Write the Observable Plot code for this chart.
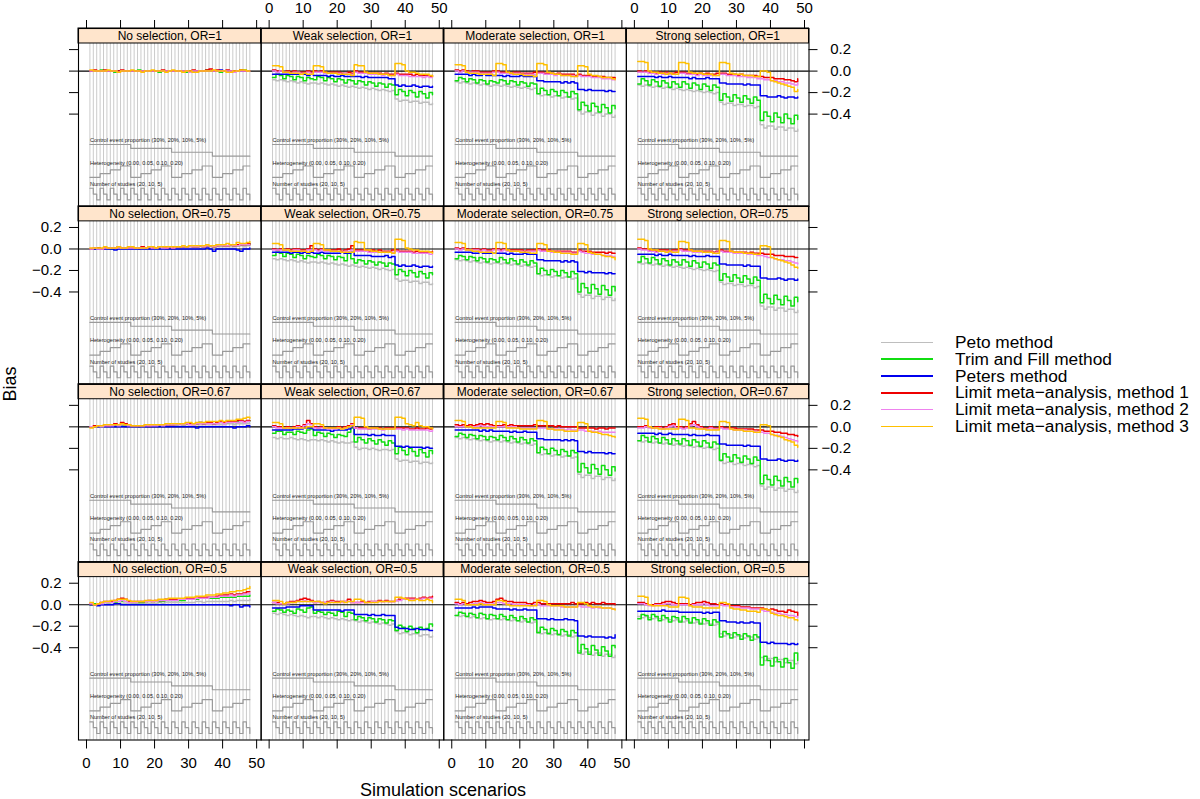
<!DOCTYPE html>
<html><head><meta charset="utf-8">
<script src="https://cdn.jsdelivr.net/npm/d3@7"></script>
<script src="https://cdn.jsdelivr.net/npm/@observablehq/plot@0.6"></script>
<style>
body{margin:0;background:#fff;font-family:"Liberation Sans",Arial,Helvetica,sans-serif;}
#wrap{position:relative;width:1200px;height:799px;overflow:hidden;background:#fff;}
#wrap svg{position:absolute;left:0;top:0;}
.lab{position:absolute;color:#000;white-space:nowrap;}
#legend{position:absolute;left:881px;top:334px;font-size:17.3px;line-height:16.8px;}
#legend .it{height:16.8px;white-space:nowrap;display:flex;align-items:center;}
#legend .sw{display:inline-block;width:52px;height:1.7px;margin-right:22px;}
</style></head>
<body><div id="wrap"></div>
<script>
const methods = ["Peto method","Trim and Fill method","Peters method","Limit meta\u2212analysis, method 1","Limit meta\u2212analysis, method 2","Limit meta\u2212analysis, method 3"];
const colors = ["#bebebe","#11dd11","#0000ee","#ee0000","#ee82ee","#ffc000"];
const selections = ["No selection","Weak selection","Moderate selection","Strong selection"];
const oddsRatios = ["OR=1","OR=0.75","OR=0.67","OR=0.5"];
const cepLevels = ["30%","20%","10%","5%"];
const hetLevels = ["0.00","0.05","0.10","0.20"];
const nLevels = [20,10,5];
const xTicks = [0,10,20,30,40,50];
const yTicks = [-0.4,-0.2,0,0.2];

// Bias x 100, one row per method (order of `methods`), 48 scenarios each
const noSel_OR1 = [
[0,0,0,0,0,0,0,0,0,0,0,0, 0,0,0,0,0,0,0,0,0,0,0,0, 0,0,0,0,0,0,0,0,0,0,0,0, 0,0,0,0,0,-1,0,0,0,0,0,0],
[0,0,0,1,0,0,0,-1,0,0,0,0, 0,0,1,0,0,0,0,0,-1,0,0,0, 0,0,0,0,-1,0,0,0,0,0,1,0, 0,0,-1,0,0,0,0,0,1,1,0,0],
[0,0,0,0,0,0,0,0,0,0,0,0, 0,0,0,0,0,0,0,0,0,0,0,0, 0,0,0,0,0,0,0,0,0,0,0,0, 0,0,1,0,0,0,0,0,0,0,0,0],
[0,1,0,0,1,0,0,0,0,1,0,0, 0,0,0,0,0,0,0,0,0,1,0,0, 0,0,0,0,0,0,1,0,0,0,1,2, 0,1,0,0,1,0,0,0,1,0,0,0],
[0,0,0,0,0,0,0,0,-1,0,0,0, 0,0,0,0,0,0,0,0,0,0,0,0, 0,0,0,0,0,-1,0,0,0,0,0,0, 0,0,0,0,0,0,-1,0,0,0,0,0],
[1,0,0,0,0,1,0,0,-1,0,0,0, 1,0,0,-1,0,0,1,0,0,0,-1,0, 1,0,0,-1,0,0,-1,-1,0,0,0,0, 1,0,0,0,-1,-1,0,0,1,1,0,0]];
const weak_OR1 = [
[-8,-9,-8,-9,-10,-9,-10,-11,-10,-11,-12,-11, -11,-12,-11,-12,-13,-12,-13,-14,-13,-14,-15,-14, -15,-16,-15,-16,-17,-16,-17,-18,-17,-18,-19,-18, -26,-28,-27,-27,-29,-28,-28,-30,-29,-29,-31,-30],
[-6,-3,-4,-7,-4,-5,-8,-5,-6,-9,-6,-7, -8,-5,-6,-9,-6,-7,-10,-7,-8,-11,-8,-9, -12,-9,-10,-13,-10,-11,-14,-11,-12,-15,-12,-13, -22,-17,-19,-23,-18,-20,-24,-19,-21,-25,-20,-22],
[-3,-3,-3,-3,-3,-3,-3,-3,-3,-3,-4,-3, -4,-4,-4,-4,-5,-4,-5,-5,-4,-5,-5,-5, -5,-5,-6,-5,-6,-6,-6,-6,-6,-6,-7,-7, -13,-14,-13,-14,-14,-13,-14,-15,-14,-14,-15,-14],
[1,0,0,-1,0,-1,0,-1,-1,-1,0,-1, 0,-1,0,-1,-2,-1,-1,-1,-2,-2,-1,-2, 0,-1,-1,-1,-2,-2,-2,-2,-3,-2,-3,-3, -2,-3,-3,-3,-3,-4,-3,-4,-4,-4,-5,-4],
[0,-1,0,-1,-1,-2,-1,-1,-2,-2,-1,-2, -1,-1,-1,-2,-2,-2,-2,-2,-3,-2,-3,-3, -1,-2,-2,-2,-3,-3,-3,-3,-4,-3,-4,-4, -3,-4,-4,-4,-5,-5,-5,-5,-6,-5,-6,-6],
[5,5,4,-1,-1,-2,-2,-2,-3,-2,-3,-3, 5,5,4,-1,-2,-2,-2,-3,-3,-3,-3,-4, 6,5,5,-1,-2,-2,-2,-3,-3,-3,-4,-4, 7,7,6,0,-1,-1,-2,-3,-3,-3,-4,-5]];
const mod_OR1 = [
[-10,-11,-10,-11,-12,-11,-12,-13,-12,-13,-14,-13, -13,-14,-13,-14,-15,-14,-15,-16,-15,-16,-17,-16, -21,-23,-22,-22,-24,-23,-23,-25,-24,-24,-26,-25, -37,-40,-38,-38,-41,-39,-39,-42,-40,-40,-43,-41],
[-9,-6,-7,-10,-7,-8,-11,-8,-9,-12,-9,-10, -11,-8,-9,-12,-9,-10,-13,-10,-11,-14,-11,-12, -21,-16,-18,-22,-17,-19,-23,-18,-20,-24,-19,-21, -36,-29,-32,-37,-30,-33,-38,-31,-34,-39,-32,-35],
[-3,-3,-3,-3,-4,-3,-4,-4,-3,-4,-4,-4, -4,-4,-5,-4,-5,-5,-5,-4,-5,-5,-5,-5, -9,-9,-10,-10,-10,-10,-10,-11,-10,-11,-10,-11, -17,-17,-18,-17,-18,-18,-18,-18,-19,-18,-19,-19],
[1,0,1,0,-1,0,0,-1,-1,-1,-1,0, 0,-1,-1,-1,-2,-1,-1,-2,-2,-2,-2,-1, -1,-1,-2,-2,-2,-3,-2,-3,-3,-3,-3,-4, -3,-4,-4,-4,-5,-5,-5,-5,-6,-6,-6,-7],
[0,-1,0,-1,-1,-1,-1,-2,-2,-2,-2,-1, -1,-2,-2,-2,-3,-2,-2,-3,-3,-3,-3,-3, -2,-2,-3,-3,-3,-4,-3,-4,-4,-4,-4,-5, -4,-5,-5,-5,-6,-6,-6,-7,-7,-7,-8,-8],
[6,6,5,-1,-2,-2,-2,-3,-3,-3,-3,-4, 7,7,6,-1,-2,-3,-3,-3,-4,-4,-4,-5, 7,7,6,-1,-2,-3,-3,-4,-4,-4,-5,-5, 5,5,4,-3,-4,-4,-5,-6,-6,-6,-7,-8]];
const strong_OR1 = [
[-13,-14,-13,-14,-15,-14,-15,-16,-15,-16,-17,-16, -17,-18,-17,-18,-19,-18,-19,-20,-19,-20,-21,-20, -29,-31,-30,-30,-32,-31,-31,-33,-32,-32,-34,-33, -50,-53,-51,-51,-54,-52,-52,-55,-53,-53,-56,-54],
[-12,-7,-9,-13,-8,-10,-14,-9,-11,-15,-10,-12, -15,-10,-12,-16,-11,-13,-17,-12,-14,-18,-13,-15, -27,-21,-24,-28,-22,-25,-29,-23,-26,-30,-24,-27, -46,-38,-42,-47,-39,-43,-48,-40,-44,-49,-41,-45],
[-5,-5,-5,-5,-5,-6,-5,-6,-6,-5,-6,-6, -6,-6,-6,-7,-6,-7,-7,-7,-6,-7,-7,-7, -11,-11,-12,-12,-12,-12,-12,-13,-12,-13,-13,-13, -23,-23,-24,-24,-24,-23,-24,-25,-24,-24,-25,-24],
[0,-1,0,-1,-1,-2,-1,-2,-1,-2,-2,-1, -1,-1,-2,-2,-2,-3,-2,-3,-2,-3,-3,-2, -2,-2,-3,-3,-3,-4,-3,-4,-4,-4,-4,-5, -5,-6,-6,-6,-7,-7,-7,-8,-8,-9,-10,-7],
[-1,-1,-1,-2,-2,-3,-2,-3,-2,-3,-3,-3, -2,-2,-3,-3,-3,-4,-3,-4,-4,-4,-4,-4, -3,-3,-4,-4,-4,-5,-5,-5,-6,-6,-6,-7, -7,-8,-8,-9,-9,-10,-10,-11,-11,-12,-13,-11],
[9,9,8,0,-1,-1,-2,-2,-3,-2,-3,-3, 8,8,7,-1,-2,-2,-2,-3,-3,-3,-4,-4, 8,8,7,-2,-3,-3,-3,-4,-4,-4,-5,-5, 0,0,-1,-9,-10,-11,-12,-13,-14,-15,-19,-17]];

const noSel_OR075 = [
[0,0,0,0,0,0,0,0,0,0,0,0, 0,0,1,0,0,1,0,0,1,0,1,1, 1,1,1,1,1,1,1,1,2,1,2,2, 1,2,2,2,2,2,2,3,3,2,3,3],
[0,0,1,0,1,1,0,1,1,1,1,1, 1,1,1,1,1,2,1,1,2,1,2,2, 1,2,2,2,2,3,2,2,3,2,3,3, 2,3,3,3,3,4,3,3,4,4,4,5],
[0,0,0,0,0,0,0,-1,0,0,0,0, 0,0,0,0,0,0,0,0,0,0,0,0, 0,0,0,0,0,0,0,0,0,0,1,0, -2,0,0,0,0,0,0,-1,-2,0,0,1],
[0,1,1,0,1,1,1,1,2,1,1,1, 1,1,1,2,1,2,1,1,2,2,1,2, 1,2,2,2,2,3,2,2,3,2,3,3, 2,3,4,3,3,4,3,4,4,4,5,4],
[0,1,0,0,1,1,1,1,1,1,1,1, 1,1,1,1,1,2,1,1,2,1,1,2, 1,2,2,2,2,2,2,2,3,2,3,3, 2,3,3,3,3,4,3,3,4,4,4,4],
[1,1,1,1,2,1,1,1,2,1,1,2, 2,1,1,1,1,2,2,1,2,2,2,2, 2,2,2,3,2,3,3,3,3,3,4,3, 3,4,4,4,5,4,4,6,5,5,6,7]];
const weak_OR075 = [
[-9,-10,-9,-10,-11,-10,-11,-12,-11,-12,-13,-12, -12,-13,-12,-13,-14,-13,-14,-15,-14,-15,-16,-15, -16,-17,-16,-17,-18,-17,-18,-19,-18,-19,-20,-19, -28,-30,-29,-29,-31,-30,-30,-32,-31,-31,-33,-32],
[-6,-3,-4,-7,-4,-5,-8,-5,-6,-9,-6,-7, -8,-5,-6,-9,-6,-7,-10,-7,-8,-11,-3,-9, -13,-10,-11,-14,-11,-12,-15,-12,-13,-16,-13,-14, -24,-19,-21,-25,-20,-22,-26,-21,-23,-27,-22,-24],
[-3,-3,-3,-3,-3,-4,-3,-3,-4,-3,-4,-3, -4,-4,-3,-4,-4,-4,-4,-4,-3,-4,-4,-3, -6,-6,-6,-6,-6,-7,-7,-7,-7,-6,-8,-7, -15,-16,-15,-16,-16,-15,-16,-17,-16,-16,-17,-16],
[0,-1,0,-1,0,-1,0,0,-1,-1,0,3, 0,-1,0,-1,-1,-1,-1,0,-2,-1,0,3, -1,-1,-1,-1,-2,-1,-2,-1,-2,-2,-2,-1, -1,-2,-2,-2,-2,-3,-2,-3,-3,-3,-3,-2],
[-1,-1,-1,-1,-1,-2,-1,-1,-2,-2,-1,-1, -1,-2,-1,-2,-2,-2,-2,-2,-3,-2,-2,-1, -2,-2,-2,-2,-3,-3,-3,-3,-3,-3,-3,-3, -2,-3,-3,-3,-3,-4,-4,-4,-4,-4,-5,-4],
[5,5,4,-1,-1,-2,-2,-2,-2,-2,-3,-2, 5,5,4,-1,-1,-2,-2,-2,-3,-3,-3,-3, 7,6,6,-1,-1,-2,-2,-3,-3,-3,-3,-4, 9,9,8,1,0,-1,-1,-2,-2,-2,-3,-4]];
const mod_OR075 = [
[-10,-11,-10,-11,-12,-11,-12,-13,-12,-13,-14,-13, -13,-14,-13,-14,-15,-14,-15,-16,-15,-16,-17,-16, -23,-25,-24,-24,-26,-25,-25,-27,-26,-26,-28,-27, -42,-45,-43,-43,-46,-44,-44,-47,-45,-45,-48,-46],
[-9,-6,-7,-10,-7,-8,-11,-8,-9,-12,-9,-10, -12,-8,-10,-13,-9,-11,-14,-10,-12,-15,-11,-13, -23,-18,-20,-24,-19,-21,-25,-20,-22,-26,-21,-23, -40,-32,-36,-41,-33,-37,-42,-34,-38,-43,-35,-39],
[-3,-3,-3,-3,-3,-4,-4,-3,-4,-4,-4,-4, -4,-4,-4,-5,-4,-5,-5,-5,-4,-5,-5,-5, -10,-10,-11,-11,-11,-11,-11,-12,-11,-12,-11,-12, -21,-21,-22,-21,-22,-22,-22,-22,-23,-22,-23,-23],
[1,0,1,0,-1,0,0,-1,0,-1,-1,0, 0,-1,0,-1,-1,-1,-1,-1,-2,-1,-1,-1, 0,-1,-1,-1,-2,-2,-2,-2,-2,-2,-3,-3, -1,-2,-2,-2,-3,-3,-3,-3,-4,-3,-4,-4],
[0,-1,0,-1,-1,-1,-1,-2,-1,-2,-2,-1, -1,-2,-1,-2,-2,-2,-2,-2,-3,-2,-2,-2, -1,-2,-2,-2,-3,-3,-3,-3,-3,-3,-4,-4, -2,-3,-4,-4,-5,-5,-5,-6,-6,-6,-7,-7],
[6,6,5,-1,-1,-2,-2,-3,-3,-3,-3,-4, 6,6,5,-1,-2,-2,-2,-3,-3,-3,-4,-4, 5,5,4,-2,-2,-3,-3,-4,-4,-4,-5,-5, 5,5,4,-3,-4,-5,-5,-6,-7,-7,-8,-10]];
const strong_OR075 = [
[-13,-14,-13,-14,-15,-14,-15,-16,-15,-16,-17,-16, -17,-18,-17,-18,-19,-18,-19,-20,-19,-20,-21,-20, -31,-33,-32,-32,-34,-33,-33,-35,-34,-34,-36,-35, -53,-56,-54,-54,-57,-55,-55,-58,-56,-56,-59,-57],
[-12,-7,-9,-13,-8,-10,-14,-9,-11,-15,-10,-12, -15,-10,-12,-16,-11,-13,-17,-12,-14,-18,-13,-15, -29,-23,-26,-30,-24,-27,-31,-25,-28,-32,-26,-29, -50,-42,-46,-51,-43,-47,-52,-44,-48,-53,-45,-49],
[-5,-5,-5,-5,-5,-6,-5,-6,-6,-5,-6,-6, -6,-6,-6,-7,-6,-7,-7,-7,-6,-7,-7,-7, -14,-14,-15,-15,-15,-15,-15,-16,-15,-16,-16,-16, -27,-27,-28,-28,-28,-27,-28,-29,-28,-28,-29,-28],
[1,0,0,-1,-1,-2,-1,-1,-1,-2,-1,-1, 0,-1,-1,-1,-2,-2,-2,-2,-2,-2,-3,-2, -1,-2,-2,-2,-3,-3,-3,-3,-4,-3,-4,-4, -4,-5,-5,-5,-6,-6,-6,-7,-7,-7,-8,-8],
[0,-1,-1,-2,-2,-3,-2,-2,-2,-3,-2,-2, -1,-2,-2,-2,-3,-3,-3,-3,-3,-3,-4,-3, -2,-3,-3,-3,-4,-4,-4,-4,-5,-5,-5,-6, -6,-7,-8,-8,-9,-10,-10,-11,-11,-12,-13,-14],
[9,9,8,0,-1,-1,-2,-2,-3,-2,-3,-3, 7,7,6,-1,-2,-2,-2,-3,-3,-3,-4,-4, 8,8,7,-2,-3,-3,-3,-4,-4,-4,-5,-5, 3,3,2,-8,-9,-10,-11,-12,-13,-15,-17,-18]];

const noSel_OR067 = [
[0,0,0,0,0,0,0,1,0,0,1,0, 0,0,1,0,1,1,1,1,1,1,1,1, 1,1,2,1,2,2,1,2,2,2,2,2, 2,2,2,2,3,3,2,3,3,3,3,3],
[0,0,1,0,1,1,1,1,2,1,1,1, 1,1,1,1,1,2,1,1,2,2,2,2, 2,2,3,2,3,3,3,3,4,3,4,4, 3,4,4,4,4,5,4,5,5,5,5,6],
[0,0,0,0,0,0,0,0,0,0,0,0, 0,0,0,0,0,0,0,0,0,0,0,0, 0,0,0,0,0,0,0,-1,0,0,0,0, 0,0,0,0,0,0,-1,0,0,0,1,0],
[0,1,1,1,2,1,2,3,2,4,3,2, 1,1,1,1,2,1,2,2,2,2,2,2, 2,3,3,3,3,3,3,3,4,3,4,4, 3,4,5,4,5,5,5,6,6,5,6,6],
[0,0,1,0,1,1,1,2,1,2,2,1, 1,1,1,1,1,1,1,1,2,1,2,2, 2,2,2,2,3,2,2,3,3,3,3,3, 3,3,4,3,4,4,4,4,5,4,5,5],
[-1,0,1,1,2,2,2,2,2,3,2,2, 1,1,1,1,2,2,2,2,2,2,3,3, 3,3,3,3,4,4,3,4,4,4,5,5, 5,5,6,5,6,6,6,7,7,8,9,8]];
const weak_OR067 = [
[-10,-11,-10,-11,-11,-10,-11,-12,-11,-12,-13,-12, -12,-13,-12,-13,-14,-13,-14,-15,-14,-15,-15,-14, -19,-21,-20,-20,-21,-20,-21,-22,-21,-21,-22,-21, -30,-32,-31,-31,-33,-32,-32,-34,-33,-33,-34,-33],
[-6,-4,-4,-7,-5,-5,-7,-4,-5,-6,-3,-2, -8,-5,-6,-9,-6,-7,-10,-7,-8,-9,-5,-1, -14,-10,-12,-15,-11,-13,-16,-12,-14,-17,-13,-15, -25,-19,-22,-26,-20,-23,-27,-21,-24,-28,-22,-25],
[-3,-3,-3,-3,-3,-3,-2,-2,-2,-1,-1,-1, -3,-3,-3,-3,-3,-4,-3,-3,-3,-3,-2,0, -7,-7,-7,-7,-8,-7,-8,-8,-7,-8,-8,-8, -18,-18,-19,-18,-19,-19,-19,-19,-20,-19,-20,-20],
[1,0,0,-1,0,-1,0,1,0,2,6,3, 0,-1,0,-1,-1,-1,-1,0,-1,0,1,3, -1,-1,-1,-1,-2,-1,-1,-1,-2,-1,-1,-1, -1,-1,-1,-1,-2,-2,-1,-2,-2,-1,-2,-1],
[0,-1,-1,-1,-1,-1,-1,0,-1,1,3,2, -1,-1,-1,-1,-2,-2,-2,-1,-2,-1,0,2, -1,-2,-2,-2,-2,-2,-2,-2,-3,-2,-2,-2, -2,-2,-3,-2,-3,-3,-3,-3,-3,-3,-4,-3],
[4,4,3,-1,-1,-1,-1,-1,-1,-1,0,0, 3,3,2,-1,-1,-1,-1,-1,-2,-1,0,1, 9,9,8,0,-1,-1,-1,-2,-2,-2,-2,-2, 9,9,8,3,2,1,4,1,0,0,-1,-2]];
const mod_OR067 = [
[-10,-11,-10,-11,-12,-11,-12,-13,-12,-13,-14,-13, -13,-14,-13,-14,-15,-14,-15,-16,-15,-16,-17,-16, -24,-26,-25,-25,-27,-26,-26,-28,-27,-27,-29,-28, -44,-47,-45,-45,-48,-46,-46,-49,-47,-47,-50,-48],
[-9,-6,-7,-10,-7,-8,-11,-8,-9,-12,-9,-10, -12,-8,-10,-13,-9,-11,-14,-10,-12,-15,-11,-13, -24,-19,-21,-25,-20,-22,-26,-21,-23,-27,-22,-24, -42,-34,-38,-43,-35,-39,-44,-36,-40,-45,-37,-41],
[-3,-3,-3,-3,-3,-3,-3,-4,-3,-4,-3,-4, -4,-4,-4,-4,-5,-4,-5,-5,-4,-5,-5,-5, -11,-11,-12,-12,-12,-12,-12,-13,-12,-13,-12,-13, -23,-23,-24,-23,-24,-24,-24,-24,-25,-24,-25,-25],
[2,1,2,1,2,1,2,3,2,3,2,1, 1,1,2,1,2,1,1,1,1,1,1,2, 1,1,1,1,1,0,1,0,0,0,0,0, -1,-1,-1,-1,-1,-2,-1,-1,-2,-1,-1,-1],
[0,0,0,0,0,0,0,1,0,0,0,0, 0,0,0,0,0,0,-1,-1,-1,-1,-1,-1, -1,-1,-1,-2,-2,-2,-2,-2,-3,-2,-3,-3, -3,-3,-4,-4,-4,-5,-4,-5,-5,-5,-5,-5],
[6,6,5,0,0,-1,-1,-1,-1,-1,-1,-1, 5,5,4,-1,-1,-1,-1,-2,-2,-2,-2,-2, 6,6,5,-2,-2,-3,-3,-3,-4,-4,-4,-4, 4,4,3,-4,-5,-5,-6,-7,-7,-8,-9,-10]];
const strong_OR067 = [
[-13,-14,-13,-14,-15,-14,-15,-16,-15,-16,-17,-16, -17,-18,-17,-18,-19,-18,-19,-20,-19,-20,-21,-20, -32,-34,-33,-33,-35,-34,-34,-36,-35,-35,-37,-36, -55,-58,-56,-56,-59,-57,-57,-60,-58,-58,-61,-59],
[-13,-8,-10,-14,-9,-11,-15,-10,-12,-16,-11,-13, -16,-11,-13,-17,-12,-14,-18,-13,-15,-19,-14,-16, -31,-25,-28,-32,-26,-29,-33,-27,-30,-34,-28,-31, -53,-45,-49,-54,-46,-50,-55,-47,-51,-56,-48,-52],
[-6,-6,-6,-6,-6,-7,-6,-7,-7,-6,-7,-7, -7,-7,-7,-8,-7,-8,-8,-8,-7,-8,-8,-8, -16,-16,-17,-17,-17,-17,-17,-18,-17,-18,-18,-18, -30,-30,-31,-31,-31,-30,-31,-32,-31,-31,-32,-31],
[0,0,1,0,-1,0,0,-1,0,2,3,0, 0,-1,0,3,5,2,0,-1,-1,0,-1,-1, 0,-1,-1,-1,-1,-2,-2,-2,-2,-2,-3,-3, -3,-4,-4,-4,-5,-5,-6,-6,-7,-7,-8,-9],
[-1,-1,0,-1,-1,-1,-1,-2,-1,0,1,-1, -1,-2,-1,1,2,0,-1,-2,-2,-1,-2,-2, -1,-2,-2,-2,-3,-3,-3,-3,-4,-4,-4,-5, -5,-6,-6,-7,-8,-8,-9,-10,-11,-12,-13,-14],
[8,8,7,0,-1,-1,-2,-2,-2,-2,-2,-2, 7,7,6,-1,-1,-2,-2,-2,-3,-3,-3,-3, 5,5,4,-2,-3,-3,-3,-4,-4,-4,-5,-5, 2,2,1,-7,-8,-9,-10,-12,-13,-14,-17,-19]];

const noSel_OR05 = [
[0,0,0,0,0,1,0,1,1,1,1,1, 1,1,1,1,1,1,1,1,2,1,2,2, 2,2,2,2,2,2,2,3,3,2,3,3, 3,3,3,3,3,4,3,4,4,4,4,5],
[0,1,1,1,2,2,2,2,3,3,3,3, 2,2,2,2,3,3,3,3,3,3,4,4, 4,4,4,4,5,5,5,5,6,6,6,6, 6,6,7,7,7,7,7,8,8,8,8,9],
[0,0,-1,0,0,0,0,1,1,0,0,0, 0,0,0,0,0,0,0,0,0,0,0,0, 0,0,0,0,0,0,0,0,0,0,0,0, 0,0,0,0,0,-1,0,0,-2,-1,-1,-2],
[1,0,1,2,3,3,3,4,5,6,5,3, 3,3,3,3,3,4,3,4,4,4,5,5, 5,5,5,5,6,6,6,6,7,7,7,7, 7,8,9,9,9,10,9,10,10,11,12,12],
[1,0,1,1,2,2,2,3,3,4,3,2, 2,2,3,3,3,3,3,3,4,4,4,4, 4,4,5,5,5,5,5,6,6,6,6,7, 7,7,8,8,8,9,8,9,9,10,10,11],
[2,0,1,2,3,3,4,4,5,5,5,4, 3,3,3,3,4,4,4,4,5,5,5,6, 6,6,6,6,7,7,7,8,8,8,9,9, 9,10,10,11,11,12,12,13,13,14,15,17]];
const weak_OR05 = [
[-8,-9,-8,-9,-10,-9,-10,-11,-10,-11,-12,-11, -11,-12,-11,-12,-13,-12,-13,-14,-13,-14,-15,-14, -15,-16,-15,-16,-17,-16,-17,-18,-17,-18,-19,-18, -25,-27,-26,-26,-28,-27,-27,-29,-28,-28,-30,-29],
[-6,-4,-5,-7,-5,-6,-8,-4,-5,-7,-3,-2, -8,-6,-7,-9,-7,-8,-10,-6,-7,-11,-7,-8, -14,-11,-12,-15,-12,-13,-16,-13,-14,-17,-14,-15, -24,-19,-21,-25,-20,-22,-26,-21,-23,-22,-18,-20],
[-3,-3,-3,-3,-2,-2,-2,-2,-1,-1,-1,-1, -5,-5,-5,-5,-5,-5,-5,-5,-6,-5,-5,-5, -9,-9,-9,-9,-10,-9,-10,-10,-9,-10,-10,-10, -21,-22,-22,-22,-23,-23,-22,-23,-23,-23,-24,-24],
[2,2,1,1,2,3,3,4,5,6,5,4, 2,3,2,2,3,4,3,3,3,3,5,2, 2,2,3,2,3,3,3,4,3,4,3,3, 4,5,5,6,6,6,5,6,7,6,7,8],
[2,1,1,1,1,2,2,3,3,4,3,3, 2,2,2,2,2,3,2,2,2,3,3,2, 2,2,2,2,2,3,3,3,3,3,3,3, 4,4,5,5,5,5,5,5,6,5,6,6],
[4,4,3,1,2,2,2,3,3,3,3,3, 3,3,2,1,2,2,2,2,3,2,3,3, 5,5,4,2,2,2,2,3,3,3,3,3, 7,7,6,5,4,4,5,4,4,5,4,2]];
const mod_OR05 = [
[-10,-11,-10,-11,-12,-11,-12,-13,-12,-13,-14,-13, -13,-14,-13,-14,-15,-14,-15,-16,-15,-16,-17,-16, -25,-27,-26,-26,-28,-27,-27,-29,-28,-28,-30,-29, -43,-46,-44,-44,-47,-45,-45,-48,-46,-46,-49,-47],
[-10,-7,-8,-11,-8,-9,-12,-8,-9,-13,-9,-10, -13,-9,-11,-14,-10,-12,-15,-11,-13,-16,-12,-14, -26,-21,-23,-27,-22,-24,-28,-23,-25,-29,-24,-26, -45,-37,-41,-46,-38,-42,-47,-39,-43,-48,-38,-40],
[-3,-3,-3,-3,-3,-2,-3,-2,-2,-2,-2,-3, -4,-4,-4,-4,-5,-4,-5,-5,-4,-5,-5,-5, -13,-13,-13,-14,-13,-14,-14,-14,-13,-14,-14,-15, -29,-29,-30,-29,-30,-30,-30,-30,-31,-30,-31,-28],
[2,1,2,1,2,3,3,4,3,2,2,3, 5,6,4,3,3,2,2,2,2,1,1,2, 2,1,1,1,1,1,1,1,1,1,2,1, 1,1,2,1,2,1,1,2,1,1,1,0],
[1,0,1,0,0,1,1,2,1,1,0,1, 2,2,1,1,1,0,0,0,0,0,-1,0, 0,-1,-1,-1,-1,-1,-1,-2,-2,-2,-2,-2, -1,-2,-2,-2,-3,-2,-3,-3,-3,-3,-4,-4],
[5,5,4,0,0,0,0,1,0,0,0,0, 4,4,3,0,-1,-1,-1,-1,-1,-1,-1,-1, 4,4,3,0,-1,-1,-1,-1,-2,-2,-2,-2, 2,2,1,-1,-2,-2,-2,-3,-3,-3,-4,-5]];
const strong_OR05 = [
[-11,-12,-11,-12,-13,-12,-13,-14,-13,-14,-15,-14, -15,-16,-15,-16,-17,-16,-17,-18,-17,-18,-19,-18, -27,-29,-28,-28,-30,-29,-29,-31,-30,-30,-32,-31, -49,-52,-50,-50,-53,-51,-51,-54,-52,-52,-55,-53],
[-13,-9,-10,-14,-9,-11,-15,-10,-12,-16,-11,-12, -16,-11,-13,-17,-12,-14,-18,-13,-15,-19,-14,-16, -30,-25,-27,-31,-26,-28,-32,-27,-29,-33,-28,-30, -56,-48,-52,-57,-49,-53,-58,-50,-54,-59,-45,-52],
[-6,-6,-6,-6,-6,-6,-6,-5,-6,-6,-6,-6, -7,-7,-7,-7,-7,-7,-7,-8,-7,-8,-7,-7, -15,-15,-16,-16,-16,-17,-16,-17,-17,-16,-17,-17, -35,-35,-36,-35,-36,-36,-36,-36,-37,-36,-37,-36],
[2,2,1,0,0,1,1,2,3,3,2,1, 1,1,1,0,1,2,2,3,2,1,1,0, 1,0,0,-1,-1,-1,-2,-2,-2,-3,-3,-3, -3,-4,-5,-4,-5,-6,-6,-7,-5,-6,-7,-10],
[1,1,0,-1,-1,0,0,0,1,1,0,0, 0,0,0,-1,0,0,0,1,0,-1,-1,-1, 0,-1,-1,-2,-2,-2,-3,-3,-3,-4,-4,-4, -5,-6,-6,-7,-8,-8,-9,-9,-10,-10,-11,-12],
[8,8,7,0,-1,-1,-1,-1,-1,-2,-2,-2, 7,7,6,-1,-2,-2,-2,-3,-3,-3,-3,-3, 2,2,1,-3,-4,-4,-5,-5,-6,-6,-6,-7, -4,-4,-5,-8,-9,-10,-10,-11,-12,-12,-14,-15]];

const panelSeries = [
  [noSel_OR1, weak_OR1, mod_OR1, strong_OR1],
  [noSel_OR075, weak_OR075, mod_OR075, strong_OR075],
  [noSel_OR067, weak_OR067, mod_OR067, strong_OR067],
  [noSel_OR05, weak_OR05, mod_OR05, strong_OR05]
];

// ---- build tables ----
const rows = [];
oddsRatios.forEach((or, r) => selections.forEach((sel, c) => {
  panelSeries[r][c].forEach((vals, m) => {
    if (vals.length !== 48) throw new Error(`length ${vals.length} at ${sel} ${or} ${m}`);
    vals.forEach((v, k) => rows.push({sel, or, method: methods[m], i: k + 1, v: v / 100}));
  });
}));
const design = [];
cepLevels.forEach((c, ci) => hetLevels.forEach((h, hi) => nLevels.forEach((n, ni) => design.push({i: design.length + 1, ci, hi, ni}))));
const scenarios = design.map(d => d.i);

// layout of each panel in data units
const XMIN = -2.353, XMAX = 51.32, YMIN = -1.2584, YSTRIP = 0.2568, YMAX = 0.3963;
const cepY = ci => -0.683 - 0.036 * ci;
const hetY = hi => -0.988 + 0.035 * hi;
const nY = ni => -1.09 - 0.054 * ni;
const loopLabels = [
  {text: `Control event proportion (${cepLevels.join(", ")})`, y: -0.646},
  {text: `Heterogeneity (${hetLevels.join(", ")})`, y: -0.853},
  {text: `Number of studies (${nLevels.join(", ")})`, y: -1.049}
];

const facets = oddsRatios.flatMap(or => selections.map(sel => ({sel, or})));
const topTicks = selections.flatMap((sel, c) => xTicks.map(t => ({sel, or: oddsRatios[0], t, lab: c % 2 === 1})));
const bottomTicks = selections.flatMap((sel, c) => xTicks.map(t => ({sel, or: oddsRatios[3], t, lab: c % 2 === 0})));
const leftTicks = oddsRatios.flatMap((or, r) => yTicks.map(t => ({sel: selections[0], or, t, lab: r % 2 === 1})));
const rightTicks = oddsRatios.flatMap((or, r) => yTicks.map(t => ({sel: selections[3], or, t, lab: r % 2 === 0})));
const fmtY = t => t === 0 ? "0.0" : (t < 0 ? "\u2212" : "") + Math.abs(t).toFixed(1);
const F = {fx: "sel", fy: "or"};
const loopStroke = "#9a9a9a";

const chart = Plot.plot({
  width: 1200, height: 799,
  marginLeft: 78, marginRight: 391.5, marginTop: 28, marginBottom: 59.5,
  fx: {domain: selections, padding: 0, axis: null, round: false},
  fy: {domain: oddsRatios, padding: 0, axis: null, round: false},
  x: {domain: [XMIN, XMAX], axis: null},
  y: {domain: [YMIN, YMAX], axis: null},
  color: {domain: methods, range: colors},
  style: {fontFamily: "'Liberation Sans', Arial, Helvetica, sans-serif", background: "transparent", overflow: "visible"},
  marks: [
    Plot.ruleX(scenarios, {x: d => d, y1: YMIN, y2: YSTRIP, stroke: "#cbcbcb", strokeWidth: 1}),
    Plot.line(design, {x: "i", y: d => cepY(d.ci), curve: "step-after", stroke: loopStroke, strokeWidth: 1.2}),
    Plot.line(design, {x: "i", y: d => hetY(d.hi), curve: "step-after", stroke: loopStroke, strokeWidth: 1.2}),
    Plot.line(design, {x: "i", y: d => nY(d.ni), curve: "step-after", stroke: loopStroke, strokeWidth: 1.2}),
    Plot.text(loopLabels, {x: scenarios[0], y: "y", text: "text", textAnchor: "start", fontSize: 5.6, fill: "#222"}),
    Plot.ruleY([0], {stroke: "black", strokeWidth: 1.1}),
    Plot.line(rows, {...F, x: "i", y: "v", z: "method", stroke: "method", curve: "step-after", strokeWidth: 1.5}),
    Plot.rect(facets, {...F, x1: XMIN, x2: XMAX, y1: YSTRIP, y2: YMAX, fill: "#ffe5cc", stroke: "black", strokeWidth: 1}),
    Plot.text(facets, {...F, x: (XMIN + XMAX) / 2, y: (YSTRIP + YMAX) / 2, text: d => `${d.sel}, ${d.or}`, fontSize: 12, fill: "black"}),
    Plot.frame({stroke: "black", strokeWidth: 1.1}),
    Plot.ruleX(topTicks, {...F, x: "t", y1: YMAX, y2: YMAX, insetTop: -8, stroke: "black"}),
    Plot.text(topTicks.filter(d => d.lab), {...F, x: "t", y: YMAX, dy: -20, text: d => String(d.t), fontSize: 15, fill: "black"}),
    Plot.ruleX(bottomTicks, {...F, x: "t", y1: YMIN, y2: YMIN, insetBottom: -9, stroke: "black"}),
    Plot.text(bottomTicks.filter(d => d.lab), {...F, x: "t", y: YMIN, dy: 23, text: d => String(d.t), fontSize: 15, fill: "black"}),
    Plot.ruleY(leftTicks, {...F, y: "t", x1: XMIN, x2: XMIN, insetLeft: -9, stroke: "black"}),
    Plot.text(leftTicks.filter(d => d.lab), {...F, y: "t", x: XMIN, dx: -17, textAnchor: "end", text: d => fmtY(d.t), fontSize: 15, fill: "black"}),
    Plot.ruleY(rightTicks, {...F, y: "t", x1: XMAX, x2: XMAX, insetRight: -9, stroke: "black"}),
    Plot.text(rightTicks.filter(d => d.lab), {...F, y: "t", x: XMAX, dx: 42, textAnchor: "end", text: d => fmtY(d.t), fontSize: 15, fill: "black"})
  ]
});
const wrap = document.getElementById("wrap");
wrap.appendChild(chart);

// axis titles
const xt = document.createElement("div");
xt.className = "lab"; xt.textContent = "Simulation scenarios";
xt.style.cssText = "left:443px;top:790px;transform:translate(-50%,-50%);font-size:18px;";
wrap.appendChild(xt);
const yt = document.createElement("div");
yt.className = "lab"; yt.textContent = "Bias";
yt.style.cssText = "left:10px;top:384px;transform:translate(-50%,-50%) rotate(-90deg);font-size:18px;";
wrap.appendChild(yt);

// legend
const lg = document.createElement("div");
lg.id = "legend";
methods.forEach((m, k) => {
  const it = document.createElement("div");
  it.className = "it";
  const sw = document.createElement("span");
  sw.className = "sw";
  sw.style.background = colors[k];
  it.appendChild(sw);
  it.appendChild(document.createTextNode(m));
  lg.appendChild(it);
});
wrap.appendChild(lg);
</script>
</body></html>
